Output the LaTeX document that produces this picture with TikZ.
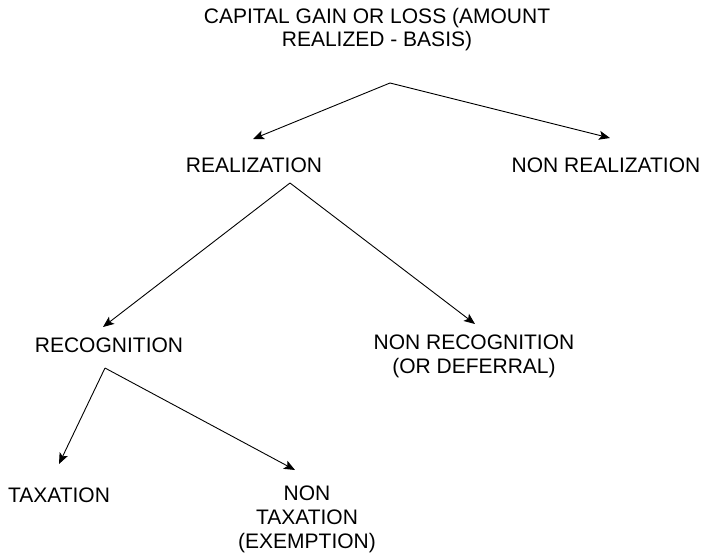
\documentclass[tikz,border=0pt]{standalone}
\usepackage{fontspec}
\setmainfont{Liberation Sans}
\usetikzlibrary{arrows.meta}
\begin{document}
\begin{tikzpicture}[x=1pt,y=-1pt,
  lbl/.style={inner sep=0pt,align=center,font=\fontsize{21}{23.8}\selectfont,text=black},
  arr/.style={draw=black,line width=0.9pt,-{Stealth[length=11pt,width=9pt,inset=2.5pt]}}]
\useasboundingbox (0,0) rectangle (713,557);
% nodes
\node[lbl] (cap) at (377,29.5) {CAPITAL GAIN OR LOSS (AMOUNT\\REALIZED - BASIS)};
\node[lbl] (real) at (254,165) {REALIZATION};
\node[lbl] (nreal) at (606,165) {NON REALIZATION};
\node[lbl] (rec) at (109,345) {RECOGNITION};
\node[lbl] (nrec) at (474,356.5) {NON RECOGNITION\\(OR DEFERRAL)};
\node[lbl] (tax) at (59,495) {TAXATION};
\node[lbl] (ntax) at (307,519.5) {NON\\TAXATION\\(EXEMPTION)};
% branch points and arrow tips
\coordinate (capfork) at (390,83);
\coordinate (realfork) at (290,183);
\coordinate (recfork) at (105,368);
\coordinate (realtip) at (253,139);
\coordinate (nrealtip) at (610,138);
\coordinate (rectip) at (103,327);
\coordinate (nrectip) at (475,324);
\coordinate (taxtip) at (59,464);
\coordinate (ntaxtip) at (295,470);
% connectors
\draw[arr] (capfork) -- (realtip);
\draw[arr] (capfork) -- (nrealtip);
\draw[arr] (realfork) -- (rectip);
\draw[arr] (realfork) -- (nrectip);
\draw[arr] (recfork) -- (taxtip);
\draw[arr] (recfork) -- (ntaxtip);
\end{tikzpicture}
\end{document}
